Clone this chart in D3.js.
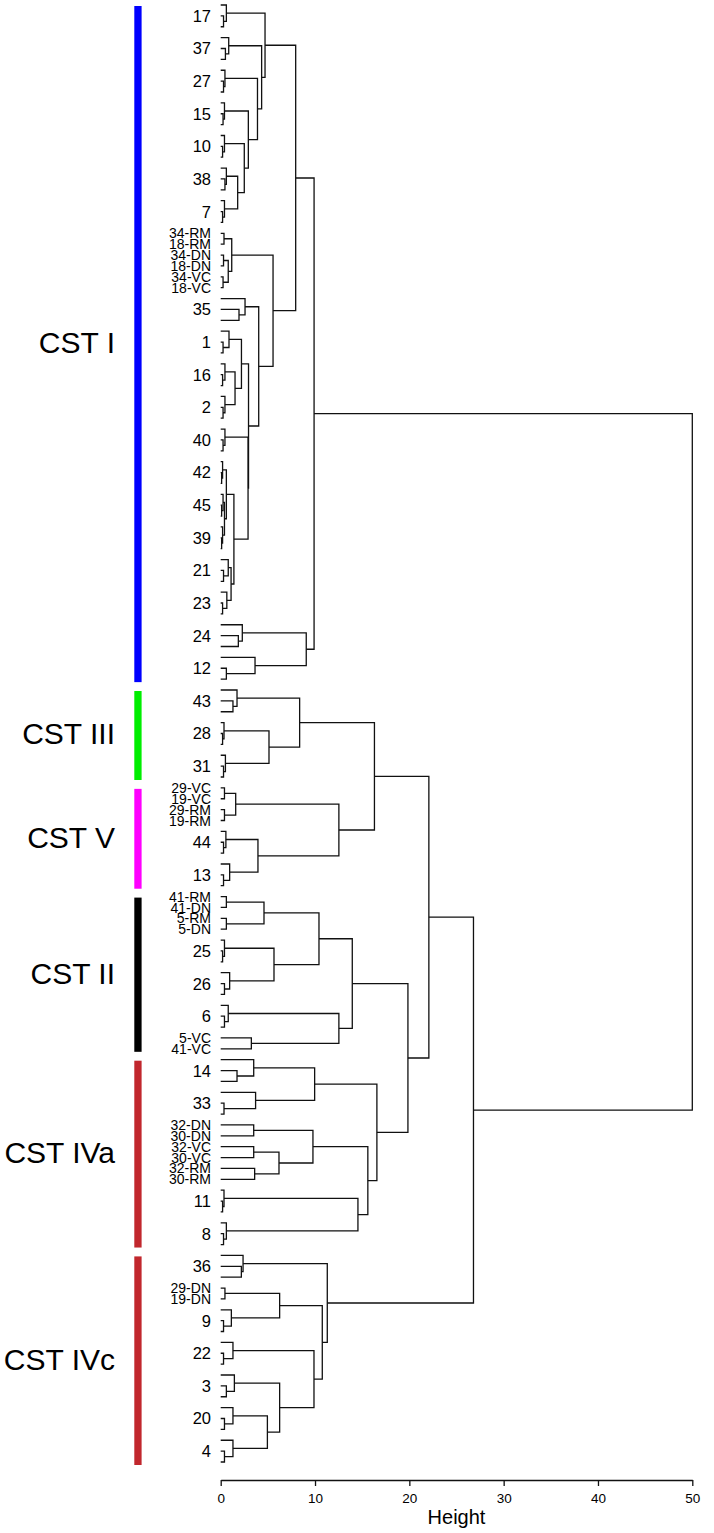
<!DOCTYPE html>
<html>
<head>
<meta charset="utf-8">
<script src="https://cdn.jsdelivr.net/npm/d3@7"></script>
<style>
body { margin: 0; background: #fff; }
text { font-family: "Liberation Sans", Arial, sans-serif; fill: #000; }
</style>
</head>
<body>
<svg id="chart" width="714" height="1533"></svg>
<script>
// tree nodes: [height, upper child, lower child]; leaves are labels ('' = unlabelled sample)
const cstI = [9.9,
  [7.95,
    [4.7, [0.6, '', [0.3, '17', '']],
      [4.34, [0.85, '', [0.5, '37', '']],
        [3.9, [0.45, '', [0.3, '27', '']],
          [2.93, [0.4, '', [0.25, '15', '']],
            [2.5, [0.4, '', [0.2, '10', '']],
              [1.8, [0.6, '', [0.45, '38', '']], [0.4, '', [0.2, '7', '']]]]]]]],
    [5.55,
      [1.17, [0.35, '34-RM', '18-RM'], [0.8, [0.3, '34-DN', '18-DN'], [0.25, '34-VC', '18-VC']]],
      [4.03, [2.58, '', [1.94, '35', '']],
        [2.95,
          [2.2, [0.88, '', [0.25, '1', '']], [1.52, [0.45, '', [0.2, '16', '']], [0.45, '', [0.25, '2', '']]]],
          [2.9, [0.45, '', [0.25, '40', '']],
            [1.4,
              [0.6, [0.2, '', [0.1, '42', '']], [0.4, [0.25, '', [0.1, '45', '']], [0.2, '', [0.1, '39', '']]]],
              [1.1, [0.8, '', [0.3, '21', '']], [0.65, '', [0.2, '23', '']]]]]]]]],
  [9.07, [2.29, '', [1.87, '24', '']], [3.64, '', [0.6, '12', '']]]];

const cstIII = [8.37, [1.73, '', [1.3, '43', '']],
  [5.12, [0.35, '', [0.2, '28', '']], [0.5, '', [0.3, '31', '']]]];

const cstV = [12.53, [1.59, [0.4, '29-VC', '19-VC'], [0.4, '29-RM', '19-RM']],
  [3.95, [0.55, '', [0.3, '44', '']], [0.95, '', [0.3, '13', '']]]];

const cstII = [13.95,
  [10.42, [4.59, [0.6, '41-RM', '41-DN'], [0.6, '5-RM', '5-DN']],
    [5.65, [0.4, '', [0.2, '25', '']], [0.95, '', [0.4, '26', '']]]],
  [12.53, [0.8, '', [0.4, '6', '']], [3.25, '5-VC', '41-VC']]];

const cstIVa = [16.56,
  [9.96, [3.5, '', [1.73, '14', '']], [3.7, '', [0.35, '33', '']]],
  [15.6,
    [9.78, [3.5, '32-DN', '30-DN'], [6.18, [3.5, '32-VC', '30-VC'], [3.6, '32-RM', '30-RM']]],
    [14.55, [0.35, '', [0.2, '11', '']], [0.6, '', [0.3, '8', '']]]]];

const cstIVc = [11.3, [2.37, '', [2.19, '36', '']],
  [10.77,
    [6.25, [0.45, '29-DN', '19-DN'], [1.13, '', [0.3, '9', '']]],
    [9.89, [1.3, '', [0.3, '22', '']],
      [6.25, [1.45, '', [0.6, '3', '']], [4.95, [1.3, '', [0.4, '20', '']], [1.3, '', [0.4, '4', '']]]]]]];

// heights where the CST clusters join: III+V, II+IVa, (III,V)+(II,IVa), +IVc, root
const joinHeights = [16.3, 19.85, 22.07, 26.8, 50.0];

const clusterNames = ['CST I', 'CST III', 'CST V', 'CST II', 'CST IVa', 'CST IVc'];
const clusterColors = ['#0000ff', '#00ee00', '#ff00ff', '#000000', '#c1272d', '#c1272d'];
const clusterTrees = [cstI, cstIII, cstV, cstII, cstIVa, cstIVc];
const heightTicks = [0, 10, 20, 30, 40, 50];

const tree = [joinHeights[4], cstI,
  [joinHeights[3],
    [joinHeights[2], [joinHeights[0], cstIII, cstV], [joinHeights[1], cstII, cstIVa]],
    cstIVc]];

const kids = d => Array.isArray(d) ? d.slice(1) : null;
const svg = d3.select('#chart');

const root = d3.hierarchy(tree, kids);
const leaves = root.leaves();

const x = d3.scaleLinear().domain([0, 50]).range([220.7, 692.3]);
const y = d3.scaleLinear().domain([0, leaves.length - 1]).range([5, 1462]);

leaves.forEach((l, i) => { l.py = y(i); });
root.eachAfter(n => {
  n.h = n.children ? n.data[0] : 0;
  if (n.children) n.py = (n.children[0].py + n.children[1].py) / 2;
});

// elbow links
svg.append('g')
  .selectAll('path')
  .data(root.descendants().filter(n => n.children))
  .enter().append('path')
    .attr('d', n => {
      const a = n.children[0], b = n.children[1];
      return 'M' + x(a.h) + ',' + a.py + 'H' + x(n.h) + 'V' + b.py + 'H' + x(b.h);
    })
    .attr('fill', 'none')
    .attr('stroke', '#111')
    .attr('stroke-width', 1.3);

// leaf labels
svg.append('g')
  .selectAll('text')
  .data(leaves.filter(l => l.data !== ''))
  .enter().append('text')
    .attr('x', 211)
    .attr('y', l => l.py)
    .attr('dy', '0.36em')
    .attr('text-anchor', 'end')
    .attr('font-size', l => l.data.indexOf('-') >= 0 ? 14 : 16.5)
    .text(l => l.data);

// cluster bars and names
let offset = 0;
clusterTrees.forEach((t, i) => {
  const n = d3.hierarchy(t, kids).leaves().length;
  const y0 = y(offset), y1 = y(offset + n - 1);
  svg.append('rect')
    .attr('x', 134.3)
    .attr('y', y0 + 1)
    .attr('width', 7.3)
    .attr('height', y1 - y0 + 2)
    .attr('fill', clusterColors[i]);
  svg.append('text')
    .attr('x', 115)
    .attr('y', (y0 + y1) / 2)
    .attr('dy', '0.36em')
    .attr('text-anchor', 'end')
    .attr('font-size', 30)
    .text(clusterNames[i]);
  offset += n;
});

// axis
const axis = svg.append('g')
  .attr('transform', 'translate(0,1480)')
  .call(d3.axisBottom(x).tickValues(heightTicks).tickSize(6).tickSizeOuter(0));
axis.select('.domain').attr('stroke', '#111').attr('stroke-width', 1.3);
axis.selectAll('.tick line').attr('stroke', '#111').attr('stroke-width', 1.3);
axis.selectAll('.tick text')
  .attr('y', 13)
  .attr('font-size', 13.5)
  .attr('font-family', '"Liberation Sans", Arial, sans-serif')
  .attr('fill', '#000');

svg.append('text')
  .attr('x', x(25))
  .attr('y', 1524)
  .attr('text-anchor', 'middle')
  .attr('font-size', 20)
  .text('Height');
</script>
</body>
</html>
